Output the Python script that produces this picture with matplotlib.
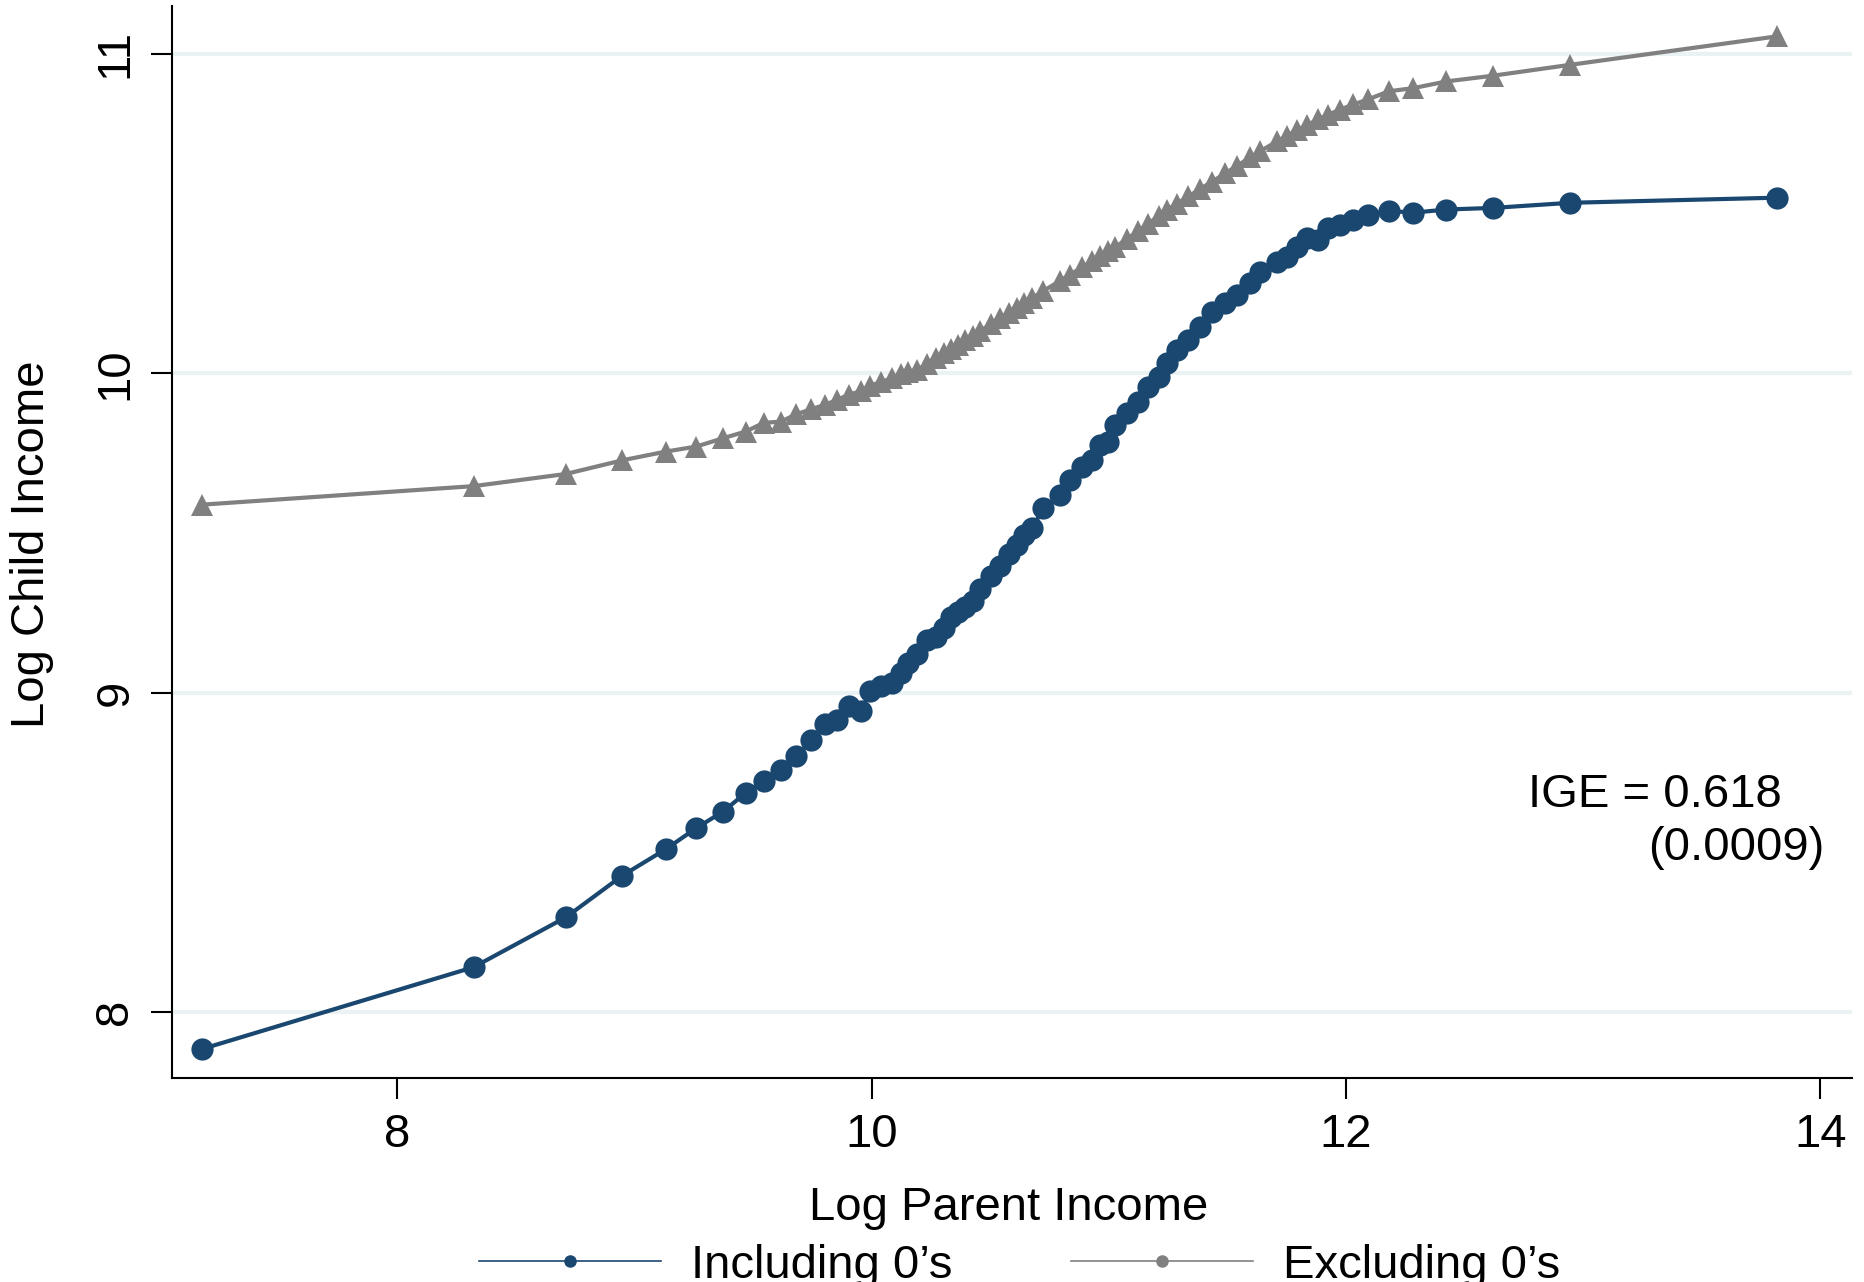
import matplotlib
matplotlib.use("Agg")
import matplotlib.pyplot as plt
from matplotlib.lines import Line2D

plt.rcParams["font.family"] = ["Liberation Sans", "DejaVu Sans"]

# parent income bins (shared by both series)
log_parent = [
    7.178, 8.322, 8.711, 8.950, 9.132, 9.262, 9.374, 9.470, 9.545, 9.618,
    9.683, 9.746, 9.802, 9.855, 9.903, 9.954, 9.995, 10.041, 10.085, 10.123,
    10.155, 10.193, 10.232, 10.273, 10.307, 10.334, 10.365, 10.394, 10.426, 10.458,
    10.503, 10.540, 10.578, 10.612, 10.644, 10.676, 10.725, 10.795, 10.837, 10.887,
    10.929, 10.964, 10.999, 11.027, 11.076, 11.125, 11.167, 11.210, 11.245, 11.287,
    11.336, 11.385, 11.435, 11.491, 11.540, 11.596, 11.638, 11.709, 11.751, 11.793,
    11.835, 11.884, 11.926, 11.976, 12.032, 12.095, 12.180, 12.284, 12.424, 12.621,
    12.946, 13.817,
]

# log child income, including zeros
child_incl = [
    7.885, 8.141, 8.297, 8.428, 8.510, 8.577, 8.628, 8.687, 8.724, 8.757,
    8.802, 8.851, 8.902, 8.914, 8.958, 8.942, 9.005, 9.022, 9.032, 9.062,
    9.094, 9.121, 9.165, 9.174, 9.203, 9.238, 9.254, 9.270, 9.286, 9.326,
    9.366, 9.398, 9.435, 9.462, 9.494, 9.515, 9.577, 9.619, 9.666, 9.708,
    9.729, 9.776, 9.786, 9.838, 9.875, 9.911, 9.958, 9.989, 10.031, 10.073,
    10.104, 10.146, 10.193, 10.219, 10.245, 10.282, 10.318, 10.349, 10.365, 10.396,
    10.423, 10.417, 10.454, 10.464, 10.480, 10.496, 10.509, 10.503, 10.513, 10.518,
    10.534, 10.550,
]

# log child income, excluding zeros
child_excl = [
    9.589, 9.647, 9.685, 9.728, 9.755, 9.771, 9.797, 9.818, 9.845, 9.849,
    9.872, 9.888, 9.901, 9.917, 9.933, 9.944, 9.962, 9.973, 9.985, 9.998,
    10.004, 10.012, 10.028, 10.047, 10.063, 10.075, 10.090, 10.104, 10.118, 10.133,
    10.154, 10.172, 10.190, 10.205, 10.220, 10.235, 10.258, 10.290, 10.309, 10.332,
    10.351, 10.367, 10.383, 10.395, 10.420, 10.446, 10.469, 10.492, 10.511, 10.531,
    10.554, 10.577, 10.600, 10.626, 10.649, 10.676, 10.695, 10.726, 10.744, 10.761,
    10.777, 10.795, 10.810, 10.826, 10.842, 10.858, 10.883, 10.893, 10.914, 10.932,
    10.966, 11.055,
]

x_ticks = [8, 10, 12, 14]
y_ticks = [8, 9, 10, 11]
ige_text = "IGE = 0.618"
ige_se = "(0.0009)"

navy = "#1a476f"
grey = "#808080"

fig = plt.figure(figsize=(18.64, 12.82), dpi=100)
ax = fig.add_axes([0.0923, 0.1591, 0.9013, 0.8362])

for yt in y_ticks:
    ax.axhline(yt, color="#eaf2f3", linewidth=3, zorder=0)

ax.plot(log_parent, child_excl, color=grey, linewidth=3, marker="^",
        markersize=16, markeredgewidth=0, zorder=2)
ax.plot(log_parent, child_incl, color=navy, linewidth=3, marker="o",
        markersize=16, markeredgewidth=0, zorder=3)

ax.text(12.768, 8.642, ige_text, fontsize=34, ha="left", va="baseline")
ax.text(13.274, 8.476, ige_se, fontsize=34, ha="left", va="baseline")

ax.set_xlim(7.051, 14.134)
ax.set_ylim(7.794, 11.150)
ax.set_xticks(x_ticks)
ax.set_yticks(y_ticks)
ax.tick_params(axis="both", direction="out", length=15, width=1.5,
               labelsize=34, color="black")
ax.tick_params(axis="x", pad=10)
ax.tick_params(axis="y", pad=10)
for lbl in ax.get_yticklabels():
    lbl.set_rotation(90)
    lbl.set_va("center")

for side in ("top", "right"):
    ax.spines[side].set_visible(False)
for side in ("left", "bottom"):
    ax.spines[side].set_linewidth(1.5)

ax.set_xlabel("Log Parent Income", fontsize=34)
ax.set_ylabel("Log Child Income", fontsize=34)
ax.xaxis.set_label_coords(0.498, -0.1006)
ax.yaxis.set_label_coords(-0.0702, 0.498)

handles = [
    Line2D([], [], color=navy, linewidth=1.2, marker="o", markersize=8),
    Line2D([], [], color=grey, linewidth=1.2, marker="o", markersize=8),
]
fig.legend(handles, ["Including 0\u2019s", "Excluding 0\u2019s"], loc="center",
           bbox_to_anchor=(0.547, 0.0125), ncol=2, frameon=False, fontsize=34,
           handlelength=3.85, handletextpad=0.64, columnspacing=2.5)

fig.savefig("out.png", dpi=100)
plt.close(fig)
